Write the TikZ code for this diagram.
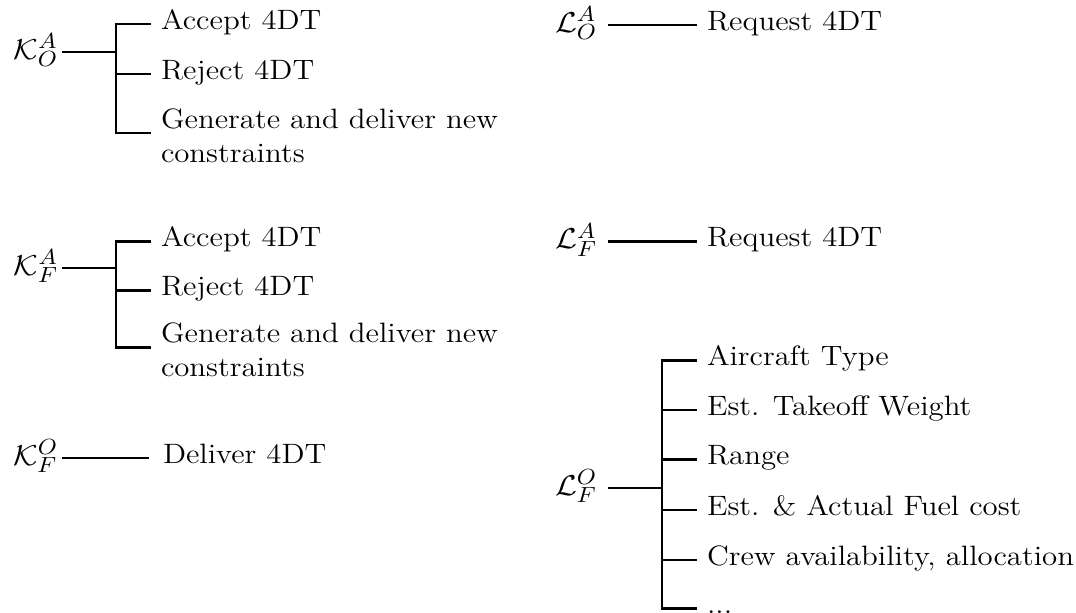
\documentclass[tikz,border=0pt]{standalone}
\usepackage{graphicx}
\newcommand{\hx}[1]{\scalebox{1.1}[1]{#1}}
\begin{document}
\begin{tikzpicture}[x=0.5pt,y=-0.5pt,
  every node/.style={font=\fontsize{14}{17}\selectfont, inner ysep=0pt, outer sep=0pt},
  lblK/.style={anchor=base east, inner xsep=2pt, font=\fontsize{15.5}{18}\selectfont},
  lblL/.style={anchor=base east, inner xsep=5.5pt, font=\fontsize{15.5}{18}\selectfont},
  item/.style={anchor=west, inner xsep=5pt, text height=8pt, text depth=3pt},
  itemtwo/.style={anchor=west, inner xsep=5pt, text height=0pt, text depth=5pt},
  link/.style={line width=1.3pt}]
\useasboundingbox (0,0) rectangle (1076,612);

% K_O^A
\node[lblK] (kOA) at (62,59) {\hx{$\mathcal{K}_O^A$}};
\coordinate (jOA) at (116,52);
\node[item] (a1) at (151,24) {\hx{Accept 4DT}};
\node[item] (a2) at (151,74) {\hx{Reject 4DT}};
\node[itemtwo] (a3) at (151,133) {\hx{\begin{tabular}[t]{@{}l@{}}Generate and deliver new\\constraints\end{tabular}}};
\draw[link] (kOA.east |- jOA) -- (jOA);
\draw[link] (jOA) |- (a1.west);
\draw[link] (jOA) |- (a2.west);
\draw[link] (jOA) |- (a3.west);

% K_F^A
\node[lblK] (kFA) at (62,275) {\hx{$\mathcal{K}_F^A$}};
\coordinate (jFA) at (116,268);
\node[item] (b1) at (151,241.7) {\hx{Accept 4DT}};
\node[item] (b2) at (151,290.7) {\hx{Reject 4DT}};
\node[itemtwo] (b3) at (151,347.7) {\hx{\begin{tabular}[t]{@{}l@{}}Generate and deliver new\\constraints\end{tabular}}};
\draw[link] (kFA.east |- jFA) -- (jFA);
\draw[link] (jFA) |- (b1.west);
\draw[link] (jFA) |- (b2.west);
\draw[link] (jFA) |- (b3.west);

% K_F^O
\node[lblK] (kFO) at (62,465) {\hx{$\mathcal{K}_F^O$}};
\node[item, inner xsep=7pt] (d1) at (149,458) {\hx{Deliver 4DT}};
\draw[link] (kFO.east |- d1.west) -- (d1.west);

% L_O^A
\node[lblL] (lOA) at (608,32) {\hx{$\mathcal{L}_O^A$}};
\node[item] (r1) at (697,25) {\hx{Request 4DT}};
\draw[link] (lOA.east |- r1.west) -- (r1.west);

% L_F^A
\node[lblL] (lFA) at (608,248.7) {\hx{$\mathcal{L}_F^A$}};
\node[item] (r2) at (697,241.7) {\hx{Request 4DT}};
\draw[link] (lFA.east |- r2.west) -- (r2.west);

% L_F^O
\node[lblL] (lFO) at (608,495) {\hx{$\mathcal{L}_F^O$}};
\coordinate (jFO) at (662,488);
\node[item] (c1) at (697,360.7) {\hx{Aircraft Type}};
\node[item] (c2) at (697,410) {\hx{Est. Takeoff Weight}};
\node[item] (c3) at (697,459.5) {\hx{Range}};
\node[item] (c4) at (697,510) {\hx{Est. \& Actual Fuel cost}};
\node[item] (c5) at (697,560) {\hx{Crew availability, allocation}};
\node[item] (c6) at (697,608.3) {\hx{...}};
\draw[link] (lFO.east |- jFO) -- (jFO);
\foreach \n in {c1,c2,c3,c4,c5,c6} \draw[link] (jFO) |- (\n.west);
\end{tikzpicture}
\end{document}
